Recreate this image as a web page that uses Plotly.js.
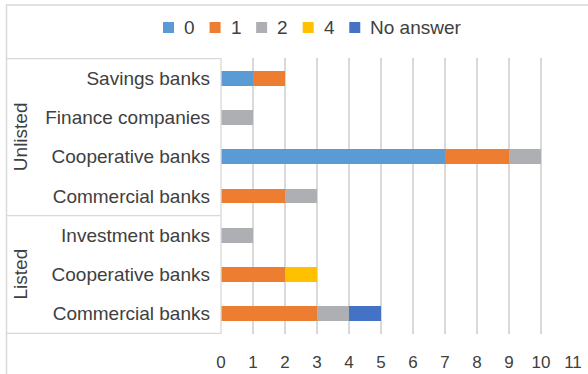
<!DOCTYPE html>
<html>
<head>
<meta charset="utf-8">
<script src="https://cdn.plot.ly/plotly-3.0.1.min.js"></script>
<style>html,body{margin:0;padding:0;background:#fff;}#chart{width:588px;height:374px;}</style>
</head>
<body>
<div id="chart"></div>
<script>
// Categories, listed top to bottom
const groups = ["Unlisted", "Unlisted", "Unlisted", "Unlisted", "Listed", "Listed", "Listed"];
const names = ["Savings banks", "Finance companies", "Cooperative banks", "Commercial banks",
               "Investment banks", "Cooperative banks", "Commercial banks"];
// Series values (number of respondents per answer)
const seriesNames = ["0", "1", "2", "4", "No answer"];
const s0  = [1, 0, 7, 0, 0, 0, 0];
const s1  = [1, 0, 2, 2, 0, 2, 3];
const s2  = [0, 1, 1, 1, 1, 0, 1];
const s4  = [0, 0, 0, 0, 0, 1, 0];
const sNA = [0, 0, 0, 0, 0, 0, 1];
const xTicks = [0, 1, 2, 3, 4, 5, 6, 7, 8, 9, 10, 11];

const colors = ["#5B9BD5", "#ED7D31", "#AEAFB2", "#FFC000", "#4472C4"];
const keys = names.map((n, i) => groups[i] + " | " + n);
const values = [s0, s1, s2, s4, sNA];

const traces = values.map((v, i) => ({
  type: "bar",
  orientation: "h",
  name: seriesNames[i],
  x: v,
  y: keys,
  marker: {color: colors[i], line: {width: 0}},
  hoverinfo: "skip"
}));

const FAM = "Liberation Sans, Arial, sans-serif";
const TXT = "#404040";
const font = {family: FAM, size: 19, color: TXT};
const tickFont = {family: FAM, size: 17, color: TXT};
const lineCol = "#D9D9D9";

// plot area geometry (pixels)
const W = 588, H = 374;
const M = {l: 221, r: 15, t: 58, b: 40};
const pw = W - M.l - M.r, ph = H - M.t - M.b;
const px2x = p => (p - M.l) / pw;
const py2y = p => (H - M.b - p) / ph;

// group labels and table lines
const uniqueGroups = [...new Set(groups)];
const annotations = [];
const shapes = [];
uniqueGroups.forEach(g => {
  const idx = groups.map((x, i) => x === g ? i : -1).filter(i => i >= 0);
  annotations.push({
    text: g, xref: "paper", yref: "y",
    x: px2x(20), y: (idx[0] + idx[idx.length - 1]) / 2,
    textangle: -90, showarrow: false, font: font,
    xanchor: "center", yanchor: "middle"
  });
  shapes.push({type: "line", xref: "paper", yref: "y",
    x0: px2x(6.5), x1: 0, y0: idx[0] - 0.5, y1: idx[0] - 0.5,
    line: {color: lineCol, width: 1.3}});
});
shapes.push({type: "line", xref: "paper", yref: "y",
  x0: px2x(6.5), x1: 0, y0: keys.length - 0.5, y1: keys.length - 0.5,
  line: {color: lineCol, width: 1.3}});
shapes.push({type: "line", xref: "paper", yref: "paper",
  x0: 0, x1: 0, y0: 0, y1: 1, line: {color: lineCol, width: 1.3}});
// outer chart border
shapes.push({type: "rect", xref: "paper", yref: "paper",
  x0: px2x(6.5), x1: px2x(700), y0: py2y(460), y1: py2y(5),
  line: {color: lineCol, width: 1.5}, fillcolor: "rgba(0,0,0,0)"});

// legend (symbol + label per series), laid out with measured text widths
const ctx = document.createElement("canvas").getContext("2d");
ctx.font = font.size + "px " + FAM;
let lx = 163;
const ly = 27.5, sq = 11;
seriesNames.forEach((n, i) => {
  shapes.push({type: "rect", xref: "paper", yref: "paper",
    x0: px2x(lx), x1: px2x(lx + sq), y0: py2y(ly + sq / 2), y1: py2y(ly - sq / 2),
    line: {width: 0}, fillcolor: colors[i]});
  annotations.push({text: n, xref: "paper", yref: "paper",
    x: px2x(lx + 20), y: py2y(ly), xanchor: "left", yanchor: "middle",
    showarrow: false, font: font, borderpad: 0});
  lx += 20 + ctx.measureText(n).width + 16;
});

const layout = {
  width: W, height: H,
  margin: M,
  paper_bgcolor: "#fff", plot_bgcolor: "#fff",
  barmode: "stack",
  bargap: 0.62,
  font: font,
  showlegend: false,
  xaxis: {range: [0, 11], tickvals: xTicks, ticktext: xTicks.map(String),
          showgrid: true, gridcolor: lineCol, gridwidth: 1.3,
          zeroline: false, showline: false, ticks: "", ticklabelstandoff: 16,
          tickfont: tickFont, fixedrange: true},
  yaxis: {type: "category", categoryorder: "array", categoryarray: keys,
          autorange: "reversed", tickvals: keys, ticktext: names,
          showgrid: false, zeroline: false, showline: false, ticks: "",
          ticklabelstandoff: 10, tickfont: font, fixedrange: true},
  shapes: shapes,
  annotations: annotations
};

Plotly.newPlot("chart", traces, layout, {displayModeBar: false, staticPlot: true});
</script>
</body>
</html>
